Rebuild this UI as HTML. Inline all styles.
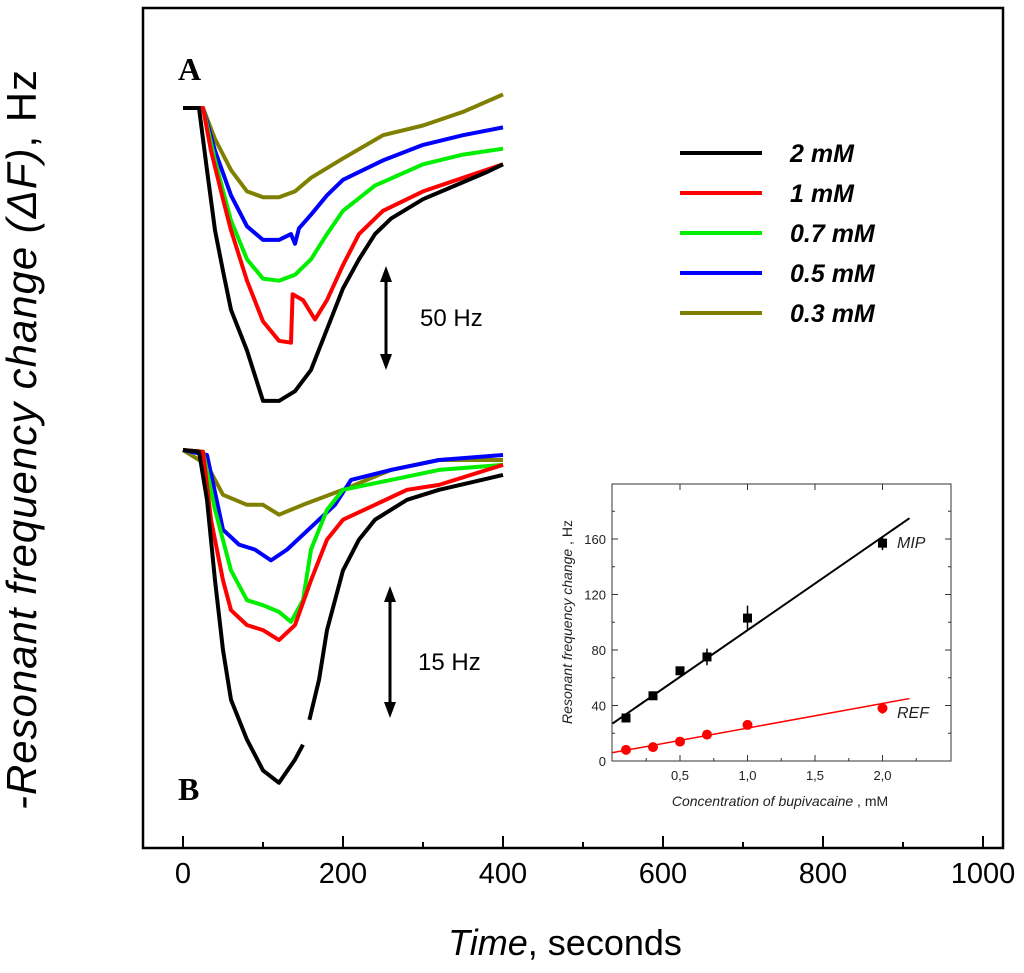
<!DOCTYPE html>
<html><head><meta charset="utf-8"><style>
body{margin:0;background:#fff;}
svg{display:block;font-family:"Liberation Sans",sans-serif;}
</style></head><body>
<svg id="chart" width="1024" height="973" viewBox="0 0 1024 973" xmlns="http://www.w3.org/2000/svg">
<rect x="143" y="8" width="860" height="840" fill="none" stroke="#000" stroke-width="2.5"/>
<g id="xticks"></g>
<text x="565" y="955" font-size="36" text-anchor="middle"><tspan font-style="italic">Time</tspan>, seconds</text>
<text transform="translate(36,440) rotate(-90)" font-size="42" text-anchor="middle" textLength="740" lengthAdjust="spacing"><tspan font-style="italic">-Resonant frequency change (ΔF)</tspan>,  Hz</text>
<text x="178" y="80" font-family="Liberation Serif,serif" font-weight="bold" font-size="32">A</text>
<text x="178" y="800" font-family="Liberation Serif,serif" font-weight="bold" font-size="32">B</text>
<g id="curves"></g>
<g>
<line x1="386" y1="278" x2="386" y2="358" stroke="#000" stroke-width="3"/>
<polygon points="386,266 380,282 392,282" fill="#000"/><polygon points="386,370 380,354 392,354" fill="#000"/>
<text x="420" y="326" font-size="24">50 Hz</text></g>
<g>
<line x1="390" y1="598" x2="390" y2="706" stroke="#000" stroke-width="3"/>
<polygon points="390,586 384,602 396,602" fill="#000"/><polygon points="390,718 384,702 396,702" fill="#000"/>
<text x="418" y="670" font-size="24">15 Hz</text></g>
<g id="legend"></g>
<g id="inset"></g>
</svg>
<script>
const NS='http://www.w3.org/2000/svg';
const seriesNames=['2 mM','1 mM','0.7 mM','0.5 mM','0.3 mM'];
const seriesColors=['#000000','#ff0000','#00ee00','#0000ff','#808000'];
const xTicks=[0,200,400,600,800,1000];
// panel A (Hz)
const tA0=[0,20,30,40,50,60,80,100,120,140,160,180,200,220,240,260,300,340,380,400];
const vA0=[0,0,32,63,84,104,125,151,151,146,135,114,93,78,65,57,47,40,33,29];
const tA1=[0,25,35,50,60,80,100,120,135,137,150,165,180,200,220,250,300,350,400];
const vA1=[0,0,22,47,63,89,110,120,121,96,99,109,99,81,65,53,43,36,29];
const tA2=[0,25,40,60,80,100,120,140,160,180,200,240,300,350,400];
const vA2=[0,0,27,58,78,88,89,86,78,65,53,40,29,24,21];
const tA3=[0,25,40,60,80,100,120,135,140,145,160,180,200,250,300,350,400];
const vA3=[0,0,22,45,61,68,68,65,70,62,55,45,37,27,19,14,10];
const tA4=[0,25,40,60,80,100,120,140,160,200,250,300,350,400];
const vA4=[0,0,16,32,43,46,46,43,36,26,14,9,2,-7];
// panel B (Hz)
const tB0a=[0,20,30,40,50,60,80,100,120,140,150];
const vB0a=[0,0.2,6,15.7,24.1,30.1,34.9,38.6,40.1,37.3,35.5];
const tB0b=[158,170,180,200,220,240,280,320,360,400];
const vB0b=[32.5,27.7,21.7,14.5,10.8,8.4,6,4.8,3.9,3.0];
const tB1=[0,25,35,50,60,80,100,120,140,160,180,200,240,280,320,400];
const vB1=[0,0.2,8.4,15.7,19.3,21.1,21.7,22.9,21.1,15.7,10.8,8.4,6.6,4.8,4.2,1.8];
const tB2=[0,25,40,60,80,100,120,135,150,160,180,200,260,320,400];
const vB2=[0,0.2,7.2,14.5,18.1,18.7,19.5,20.7,18.1,12,7.2,4.8,3.6,2.4,1.8];
const tB3=[0,30,50,70,90,110,130,150,170,190,210,260,320,400];
const vB3=[0,0.6,9.6,11.4,12,13.3,12,10.2,8.4,6.6,3.6,2.4,1.2,0.6];
const tB4=[0,30,50,80,100,120,150,200,260,320,400];
const vB4=[0,1.8,5.4,6.6,6.6,7.8,6.6,4.8,2.4,1.2,1.2];
// inset
const conc=[0.1,0.3,0.5,0.7,1.0,2.0];
const mip=[31,47,65,75,103,157];
const mipErr=[2,2,2,6,9,5];
const ref=[8,10,14,19,26,38];
const refErr=[1,1,1,1,1,4];
const mipFit=[27,175];
const refFit=[6,45];
const fitX=[0,2.2];
const insetYTicks=[0,40,80,120,160];
const insetXTicks=[0.5,1.0,1.5,2.0];
const insetXLabels=['0,5','1,0','1,5','2,0'];

const X=t=>183+t*0.8;
const YA=v=>108+v*1.94;
const YB=v=>450+v*8.3;
function el(tag,attrs,parent){const e=document.createElementNS(NS,tag);for(const k in attrs)e.setAttribute(k,attrs[k]);parent.appendChild(e);return e;}
const xt=document.getElementById('xticks');
xTicks.forEach(v=>{
 const l=el('line',{x1:X(v),x2:X(v),y1:848,y2:836,stroke:'#000','stroke-width':2},xt);
 
 
 const tx=el('text',{x:X(v),y:883,'font-size':29,'text-anchor':'middle'},xt);tx.textContent=v;
 
 
});
[100,300,500,700,900].forEach(v=>{el('line',{x1:X(v),x2:X(v),y1:848,y2:842,stroke:'#000','stroke-width':2},xt);});
const cg=document.getElementById('curves');
function curve(ts,vs,Y,color,name){
 const p=el('path',{d:ts.map((t,i)=>(i?'L':'M')+X(t).toFixed(1)+','+Y(vs[i]).toFixed(1)).join(''),fill:'none',stroke:color,'stroke-width':4,'stroke-linejoin':'round'},cg);
 
 
}
const A=[[tA4,vA4],[tA3,vA3],[tA2,vA2],[tA1,vA1],[tA0,vA0]];
A.forEach((s,i)=>curve(s[0],s[1],YA,seriesColors[4-i],'curve-a-'+seriesNames[4-i].replace(/[ .]/g,'-')));
const B=[[tB4,vB4],[tB3,vB3],[tB2,vB2],[tB1,vB1]];
B.forEach((s,i)=>curve(s[0],s[1],YB,seriesColors[4-i],'curve-b-'+seriesNames[4-i].replace(/[ .]/g,'-')));
curve(tB0a,vB0a,YB,'#000','curve-b-2mM-part1');
curve(tB0b,vB0b,YB,'#000','curve-b-2mM-part2');
const lg=document.getElementById('legend');
seriesNames.forEach((n,i)=>{
 const y=153+i*40;
 const l=el('line',{x1:680,x2:762,y1:y,y2:y,stroke:seriesColors[i],'stroke-width':4},lg);
 
 
 const t=el('text',{x:790,y:y+9,'font-size':25,'font-weight':'bold','font-style':'italic'},lg);t.textContent=n;
 
 
});
// inset
const ig=document.getElementById('inset');
const IX=c=>612.5+c*135;
const IY=v=>761-v*1.3875;
el('rect',{x:612,y:484,width:339,height:277,fill:'#fff',stroke:'#333','stroke-width':1},ig);
insetYTicks.forEach(v=>{
 el('line',{x1:612,x2:618,y1:IY(v),y2:IY(v),stroke:'#333'},ig);
 el('line',{x1:951,x2:945,y1:IY(v),y2:IY(v),stroke:'#333'},ig);
 const t=el('text',{x:606,y:IY(v)+5,'font-size':13,'text-anchor':'end',fill:'#222'},ig);t.textContent=v;
 
 
});
[20,60,100,140,180].forEach(v=>{el('line',{x1:612,x2:615,y1:IY(v),y2:IY(v),stroke:'#333'},ig);el('line',{x1:951,x2:948,y1:IY(v),y2:IY(v),stroke:'#333'},ig);});
insetXTicks.forEach((v,i)=>{
 el('line',{x1:IX(v),x2:IX(v),y1:761,y2:755,stroke:'#333'},ig);
 el('line',{x1:IX(v),x2:IX(v),y1:484,y2:490,stroke:'#333'},ig);
 const t=el('text',{x:IX(v),y:780,'font-size':13,'text-anchor':'middle',fill:'#222'},ig);t.textContent=insetXLabels[i];
 
 
});
[0.25,0.75,1.25,1.75,2.25].forEach(v=>{el('line',{x1:IX(v),x2:IX(v),y1:761,y2:758,stroke:'#333'},ig);});
const f1=el('line',{x1:IX(fitX[0]),y1:IY(mipFit[0]),x2:IX(fitX[1]),y2:IY(mipFit[1]),stroke:'#000','stroke-width':2},ig);


const f2=el('line',{x1:IX(fitX[0]),y1:IY(refFit[0]),x2:IX(fitX[1]),y2:IY(refFit[1]),stroke:'#f00','stroke-width':1.5},ig);


conc.forEach((c,i)=>{
 el('line',{x1:IX(c),x2:IX(c),y1:IY(mip[i]-mipErr[i]),y2:IY(mip[i]+mipErr[i]),stroke:'#000','stroke-width':1.5},ig);
 const s=el('rect',{x:IX(c)-4.5,y:IY(mip[i])-4.5,width:9,height:9,fill:'#000'},ig);
 
 
 el('line',{x1:IX(c),x2:IX(c),y1:IY(ref[i]-refErr[i]),y2:IY(ref[i]+refErr[i]),stroke:'#f00','stroke-width':1.5},ig);
 const d=el('circle',{cx:IX(c),cy:IY(ref[i]),r:5,fill:'#f00'},ig);
 
 
});
const m=el('text',{x:897,y:548,'font-size':16,'font-style':'italic',fill:'#222'},ig);m.textContent='MIP';


const r=el('text',{x:897,y:718,'font-size':16,'font-style':'italic',fill:'#222'},ig);r.textContent='REF';


const xl=el('text',{x:780,y:806,'font-size':14,'text-anchor':'middle',fill:'#222'},ig);
xl.innerHTML='<tspan font-style="italic">Concentration of bupivacaine</tspan> ,  mM';


const yl=el('text',{transform:'translate(572,622) rotate(-90)','font-size':14,'text-anchor':'middle',fill:'#222'},ig);
yl.innerHTML='<tspan font-style="italic">Resonant frequency change</tspan> ,  Hz';


</script>
</body></html>
